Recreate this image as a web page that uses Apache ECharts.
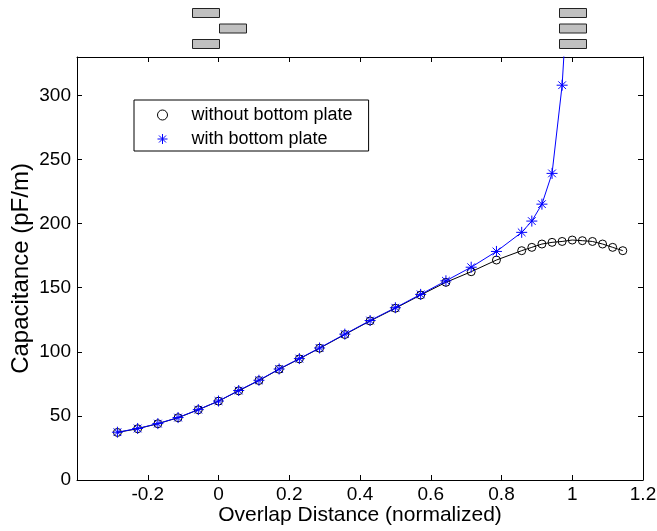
<!DOCTYPE html>
<html>
<head>
<meta charset="utf-8">
<script src="https://cdn.jsdelivr.net/npm/echarts@6/dist/echarts.min.js"></script>
<style>
html,body{margin:0;padding:0;background:#fff;}
#chart{width:657px;height:531px;}
</style>
</head>
<body>
<div id="chart"></div>
<script>
// ---- data ----
const xWithout = [-0.2857, -0.2286, -0.1714, -0.1143, -0.0571, 0, 0.0571, 0.1143, 0.1714, 0.2286, 0.2857, 0.3571, 0.4286, 0.5, 0.5714, 0.6429, 0.7143, 0.7857, 0.8571, 0.8857, 0.9143, 0.9429, 0.9714, 1.0, 1.0286, 1.0571, 1.0857, 1.1143, 1.1429];
const yWithout = [37.1, 40.0, 43.9, 48.6, 54.8, 61.5, 69.6, 77.6, 86.4, 94.5, 102.8, 113.5, 124.1, 134.0, 144.3, 154.2, 162.5, 171.6, 178.9, 181.5, 184.1, 185.4, 186.1, 187.2, 186.7, 186.1, 184.1, 181.5, 178.9];
const xWith = [-0.2857, -0.2286, -0.1714, -0.1143, -0.0571, 0, 0.0571, 0.1143, 0.1714, 0.2286, 0.2857, 0.3571, 0.4286, 0.5, 0.5714, 0.6429, 0.7143, 0.7857, 0.8571, 0.8857, 0.9143, 0.9429, 0.9714, 1.0];
const yWith = [37.3, 40.2, 44.0, 48.7, 54.9, 61.6, 69.8, 77.8, 86.6, 94.7, 103.0, 113.8, 124.4, 134.4, 144.8, 155.4, 166.0, 178.3, 193.2, 202.0, 215.2, 239.2, 308.0, 440.0];
const seriesNames = ['without bottom plate', 'with bottom plate'];
const xTitle = 'Overlap Distance (normalized)';
const yTitle = 'Capacitance (pF/m)';
// plate sketches: x centres (data units) of each plate, per group (top→bottom)
const plateLeftGroup = [-0.0375, 0.0375, -0.0375];
const plateRightGroup = [1.0, 1.0, 1.0];
const plateWidth = 0.075;

const FONT = 'Liberation Sans, Arial, Helvetica, sans-serif';
const STAR = 'path://M0,5L10,5M5,0L5,10M1.5,1.5L8.5,8.5M8.5,1.5L1.5,8.5';

const chart = echarts.init(document.getElementById('chart'), null, {renderer: 'canvas'});

const pairs = (xs, ys) => xs.map((x, i) => [x, ys[i]]);

const axisCommon = {
  axisLine: {show: true, onZero: false, lineStyle: {color: '#000', width: 1}},
  axisTick: {show: true, inside: true, length: 5, lineStyle: {color: '#000', width: 1}},
  splitLine: {show: false}
};

const option = {
  backgroundColor: '#fff',
  animation: false,
  grid: {left: 77, right: 14, top: 57, bottom: 51, containLabel: false, outerBoundsMode: 'none'},
  xAxis: [
    Object.assign({
      type: 'value', position: 'bottom', min: -0.4, max: 1.2, interval: 0.2,
      name: xTitle, nameLocation: 'middle', nameGap: 25, nameMoveOverlap: false,
      nameTextStyle: {fontFamily: FONT, fontSize: 21, color: '#000'},
      axisLabel: {show: true, margin: 5, fontFamily: FONT, fontSize: 19, color: '#000',
        showMinLabel: false, formatter: v => String(Math.round(v * 10) / 10)}
    }, axisCommon),
    Object.assign({
      type: 'value', position: 'top', min: -0.4, max: 1.2, interval: 0.2,
      axisLabel: {show: false}
    }, axisCommon)
  ],
  yAxis: [
    Object.assign({
      type: 'value', position: 'left', min: 0, max: 330, interval: 50,
      name: yTitle, nameLocation: 'middle', nameGap: 44, nameRotate: 90, nameMoveOverlap: false,
      nameTextStyle: {fontFamily: FONT, fontSize: 24, color: '#000'},
      axisLabel: {show: true, margin: 6, fontFamily: FONT, fontSize: 19, color: '#000', showMaxLabel: false}
    }, axisCommon),
    Object.assign({
      type: 'value', position: 'right', min: 0, max: 330, interval: 50,
      axisLabel: {show: false}
    }, axisCommon)
  ],
  legend: {
    left: 134, top: 100, orient: 'vertical',
    backgroundColor: '#fff', borderColor: '#000', borderWidth: 1, borderRadius: 0,
    padding: [6, 16, 3, 23], itemGap: 6, itemWidth: 10, itemHeight: 10,
    textStyle: {fontFamily: FONT, fontSize: 18, color: '#000', padding: [0, 0, 0, 19]},
    data: [
      {name: seriesNames[0], icon: 'path://M8,4A4,4,0,1,1,0,4A4,4,0,1,1,8,4Z', itemStyle: {color: 'rgba(0,0,0,0)', borderColor: '#000', borderWidth: 1}},
      {name: seriesNames[1], icon: STAR, itemStyle: {color: 'rgba(0,0,0,0)', borderColor: '#0000ff', borderWidth: 1}}
    ]
  },
  series: [
    {
      name: seriesNames[0], type: 'line', xAxisIndex: 0, yAxisIndex: 0,
      data: pairs(xWithout, yWithout),
      color: '#000',
      symbol: 'circle', symbolSize: 8,
      itemStyle: {color: 'rgba(0,0,0,0)', borderColor: '#000', borderWidth: 1},
      lineStyle: {color: '#000', width: 1},
      clip: true, z: 2
    },
    {
      name: seriesNames[1], type: 'line', xAxisIndex: 0, yAxisIndex: 0,
      data: pairs(xWith, yWith),
      color: '#0000ff',
      symbol: STAR, symbolSize: 11,
      itemStyle: {color: 'rgba(0,0,0,0)', borderColor: '#0000ff', borderWidth: 1},
      lineStyle: {color: '#0000ff', width: 1},
      clip: true, z: 3
    }
  ]
};

chart.setOption(option);

// plate sketches above the axes, positioned through the x scale
function plateRects(centres) {
  const tops = [8, 23.5, 39];
  return centres.map((c, i) => {
    const x0 = chart.convertToPixel({xAxisIndex: 0}, c - plateWidth / 2);
    const x1 = chart.convertToPixel({xAxisIndex: 0}, c + plateWidth / 2);
    return {
      type: 'rect', silent: true,
      shape: {x: Math.round(x0) + 0.5, y: tops[i] + 0.5, width: Math.round(x1 - x0), height: 9},
      style: {fill: '#c0c0c0', stroke: '#222', lineWidth: 1}
    };
  });
}
chart.setOption({graphic: plateRects(plateLeftGroup).concat(plateRects(plateRightGroup))});
</script>
</body>
</html>
